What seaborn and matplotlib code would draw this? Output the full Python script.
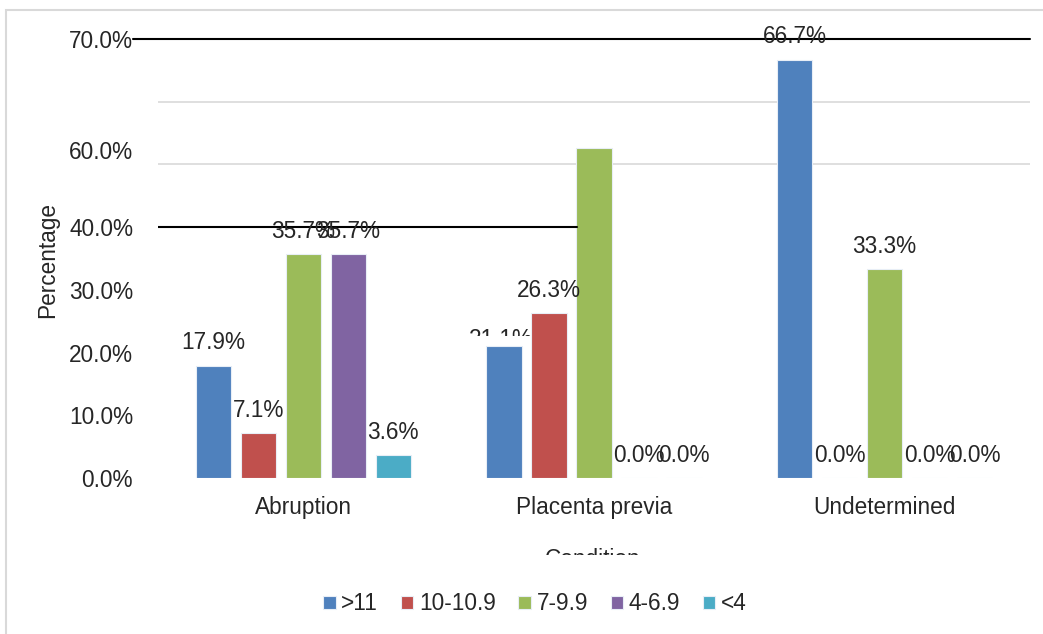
import numpy as np
import pandas as pd
import matplotlib
matplotlib.use('Agg')
import matplotlib.pyplot as plt
import seaborn as sns
from matplotlib.patches import Rectangle
from matplotlib.transforms import Bbox, TransformedBbox

# --- data ---
conditions = ['Abruption', 'Placenta previa', 'Undetermined']
hb_groups = ['>11', '10-10.9', '7-9.9', '4-6.9', '<4']
abruption = [17.9, 7.1, 35.7, 35.7, 3.6]
placenta_previa = [21.1, 26.3, 52.6, 0.0, 0.0]
undetermined = [66.7, 0.0, 33.3, 0.0, 0.0]
# tick labels as printed on the original axis
ytick_values = [0, 10, 20, 30, 40, 52.3, 70]
ytick_labels = ['0.0%', '10.0%', '20.0%', '30.0%', '40.0%', '60.0%', '70.0%']
COLORS = ['#4F81BD', '#C0504D', '#9BBB59', '#8064A2', '#4BACC6']

rows = []
for cond, vals in zip(conditions, [abruption, placenta_previa, undetermined]):
    for g, v in zip(hb_groups, vals):
        rows.append({'Condition': cond, 'Hb': g, 'Percentage': v})
df = pd.DataFrame(rows)

sns.set_theme(style='white')
plt.rcParams['font.family'] = ['Liberation Sans', 'DejaVu Sans']
FS = 16.3
TXT = '#262626'

fig = plt.figure(figsize=(10.43, 6.34), dpi=100)
ax = fig.add_axes([158/1043, 1-478/634, (1030-158)/1043, (478-39)/634])

sns.barplot(data=df, x='Condition', y='Percentage', hue='Hb', hue_order=hb_groups,
            order=conditions, palette=COLORS, saturation=1, width=0.774, gap=0.22,
            edgecolor='#E8EEF6', linewidth=0.8, ax=ax, errorbar=None, zorder=3)

ax.set_xlim(-0.5, 2.5)
ax.set_ylim(0, 70)
for s in ax.spines.values():
    s.set_visible(False)

ax.set_yticks(ytick_values)
ax.set_yticklabels(ytick_labels)
ax.set_yticks(np.arange(0, 71, 10), minor=True)
ax.grid(False)
ax.yaxis.grid(True, which='minor', color='#D9D9D9', lw=1.2, zorder=0)
ax.tick_params(axis='y', which='both', length=0, pad=18, labelsize=FS, labelcolor=TXT)
ax.tick_params(axis='x', length=0, pad=13, labelsize=FS, labelcolor=TXT)
ax.set_xlabel('')
ax.set_ylabel('')

# stray black lines from the original
ax.axhline(70, xmin=-0.029, xmax=1, color='black', lw=1.5, clip_on=False, zorder=4)
ax.axhline(40, xmin=0, xmax=0.48, color='black', lw=1.5, zorder=4)

# data labels
for i, cont in enumerate(ax.containers):
    for j, bar in enumerate(cont):
        val = df[(df['Hb'] == hb_groups[i]) & (df['Condition'] == conditions[j])]['Percentage'].values[0]
        xc = bar.get_x() + bar.get_width() / 2
        if conditions[j] == 'Placenta previa' and hb_groups[i] == '7-9.9':
            continue
        if conditions[j] == 'Placenta previa' and hb_groups[i] == '>11':
            t = ax.text(xc - 0.01, val + 1.0, f'{val:.1f}%', ha='center', va='center',
                        fontsize=FS, color=TXT, clip_on=True, zorder=5)
            t.set_clip_box(TransformedBbox(Bbox.from_extents(-0.5, 22.65, 2.5, 80), ax.transData))
            continue
        ax.annotate(f'{val:.1f}%', (xc, val), xytext=(0, 16.5), textcoords='offset points',
                    ha='center', va='center', fontsize=FS, color=TXT, zorder=5)

# legend
handles, labels = ax.get_legend_handles_labels()
ax.get_legend().remove()
fig.legend(handles, labels, loc='center', bbox_to_anchor=(535/1043, 1-604/634), ncol=5,
           frameon=False, fontsize=FS, handlelength=0.55, handleheight=0.55,
           handletextpad=0.25, columnspacing=1.0, labelcolor=TXT)

fig.text(48/1043, 1-260/634, 'Percentage', rotation=90, ha='center', va='center',
         fontsize=FS, color=TXT)
xl = fig.text(593/1043, 1-548/634, 'Condition', ha='center', va='top', fontsize=FS,
              color=TXT, clip_on=True)
xl.set_clip_box(Bbox.from_extents(0, 634-555, 1043, 634))

# outer chart border
fig.patches.append(Rectangle((6/1043, -0.1), 1.2, 1.1 - 10/634, transform=fig.transFigure,
                             fill=False, edgecolor='#D9D9D9', lw=1.5))

fig.savefig('out.png', dpi=100)
